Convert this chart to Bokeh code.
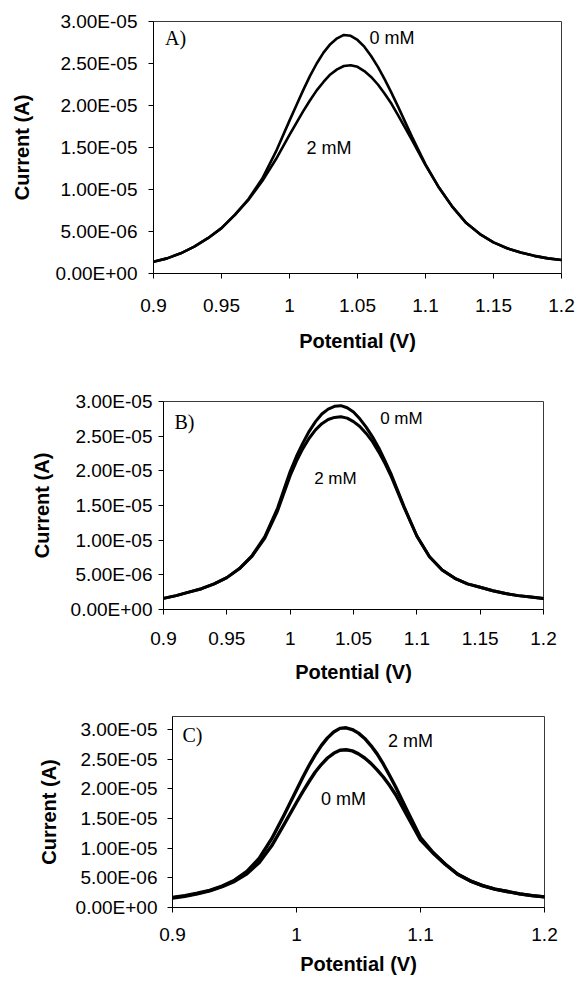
from bokeh.plotting import figure
from bokeh.layouts import column
from bokeh.models import Range1d, FixedTicker, ColumnDataSource
from bokeh.core.properties import value
from bokeh.embed import file_html
from bokeh.resources import INLINE

# ---------------- data (current in microamps) ----------------
potential = [0.90, 0.91, 0.92, 0.93, 0.94, 0.95, 0.96, 0.97, 0.98, 0.99,
             1.000, 1.005, 1.010, 1.015, 1.020, 1.025, 1.030, 1.035, 1.040,
             1.045, 1.050, 1.055, 1.060, 1.065, 1.070, 1.075, 1.080,
             1.09, 1.10, 1.11, 1.12, 1.13, 1.14, 1.15, 1.16, 1.17, 1.18, 1.19, 1.20]

a_0mM = [1.4, 1.8, 2.4, 3.2, 4.2, 5.4, 7.0, 8.9, 11.3, 14.5,
         18.2, 20.0, 21.8, 23.5, 25.0, 26.3, 27.3, 28.0, 28.4,
         28.3, 27.8, 27.0, 25.9, 24.6, 23.1, 21.5, 19.8,
         16.3, 13.0, 10.2, 7.9, 6.0, 4.7, 3.7, 3.0, 2.5, 2.1, 1.8, 1.6]
a_2mM = [1.4, 1.8, 2.4, 3.2, 4.2, 5.4, 7.0, 8.8, 11.0, 13.6,
         16.5, 17.9, 19.3, 20.6, 21.8, 22.8, 23.7, 24.3, 24.7,
         24.8, 24.6, 24.1, 23.4, 22.5, 21.4, 20.2, 18.8,
         15.9, 12.9, 10.2, 7.9, 6.0, 4.7, 3.7, 3.0, 2.5, 2.1, 1.8, 1.6]

b_0mM = [1.6, 2.0, 2.5, 3.0, 3.7, 4.6, 5.9, 7.8, 10.5, 14.6,
         19.9, 22.1, 24.0, 25.7, 27.1, 28.2, 28.9, 29.3, 29.4,
         29.1, 28.5, 27.5, 26.3, 24.9, 23.3, 21.4, 19.4,
         14.8, 10.6, 7.6, 5.7, 4.5, 3.7, 3.2, 2.7, 2.3, 2.0, 1.8, 1.6]
b_2mM = [1.6, 2.0, 2.5, 3.0, 3.7, 4.6, 5.9, 7.7, 10.3, 14.2,
         19.3, 21.4, 23.2, 24.7, 25.9, 26.8, 27.4, 27.7, 27.8,
         27.6, 27.1, 26.4, 25.4, 24.2, 22.7, 21.0, 19.1,
         14.7, 10.6, 7.6, 5.7, 4.5, 3.7, 3.2, 2.7, 2.3, 2.0, 1.8, 1.6]

c_0mM = [1.6, 1.9, 2.3, 2.8, 3.5, 4.4, 5.7, 7.6, 10.4, 14.0,
         17.7, 19.5, 21.2, 22.8, 24.1, 25.2, 26.0, 26.5, 26.6,
         26.4, 25.9, 25.2, 24.3, 23.2, 22.0, 20.6, 19.0,
         15.2, 11.4, 9.2, 7.3, 5.6, 4.5, 3.7, 3.1, 2.7, 2.3, 2.0, 1.8]
c_2mM = [1.7, 2.0, 2.4, 2.9, 3.6, 4.6, 6.1, 8.3, 11.6, 15.6,
         19.8, 21.9, 23.9, 25.7, 27.3, 28.6, 29.6, 30.2, 30.3,
         30.0, 29.4, 28.5, 27.3, 25.9, 24.2, 22.3, 20.3,
         16.0, 11.8, 9.3, 7.3, 5.6, 4.5, 3.7, 3.1, 2.7, 2.3, 2.0, 1.8]

x_ticks_ab = [0.9, 0.95, 1.0, 1.05, 1.1, 1.15, 1.2]
x_labels_ab = ["0.9", "0.95", "1", "1.05", "1.1", "1.15", "1.2"]
x_ticks_c = [0.9, 1.0, 1.1, 1.2]
x_labels_c = ["0.9", "1", "1.1", "1.2"]
y_ticks = [0.0, 5e-6, 1e-5, 1.5e-5, 2e-5, 2.5e-5, 3e-5]
y_labels = ["0.00E+00", "5.00E-06", "1.00E-05", "1.50E-05", "2.00E-05", "2.50E-05", "3.00E-05"]

panel_letters = ["A)", "B)", "C)"]
letter_x = [0.9162, 0.9166, 0.9161]
letter_y_uA = [27.98, 27.1, 29.0]

a_notes = ["0 mM", "2 mM"]
a_notes_x = [1.0754, 1.029]
a_notes_y_uA = [28.06, 14.94]
b_notes = ["0 mM", "2 mM"]
b_notes_x = [1.0878, 1.0357]
b_notes_y_uA = [27.6, 18.9]
c_notes = ["2 mM", "0 mM"]
c_notes_x = [1.0919, 1.0379]
c_notes_y_uA = [28.15, 18.37]

x_title = "Potential (V)"
y_title = "Current (A)"

UA = 1e-6
SANS = "Liberation Sans"
SERIF = "Liberation Serif"


def panel(height, borders, ymax, xticks, xlabels, tick_px, y_lab_so, y_title_so,
          x_lab_so, x_title_so, series, lw, letter_idx, notes, notes_x, notes_y, note_px):
    left, right, top, bottom = borders
    p = figure(width=578, height=height, output_backend="svg", toolbar_location=None,
               x_range=Range1d(0.9, 1.2), y_range=Range1d(0, ymax),
               min_border_left=left, min_border_right=right,
               min_border_top=top, min_border_bottom=bottom)
    p.frame_align = False
    p.background_fill_color = "white"
    p.border_fill_color = "white"
    p.outline_line_color = "#3a3a3a"
    p.outline_line_width = 1
    p.xgrid.visible = False
    p.ygrid.visible = False

    for ax in (p.xaxis[0], p.yaxis[0]):
        ax.axis_line_color = "black"
        ax.major_tick_line_color = "black"
        ax.major_tick_out = 5
        ax.major_tick_in = 0
        ax.minor_tick_line_color = None
        ax.major_label_text_font = SANS
        ax.major_label_text_font_size = f"{tick_px}px"
        ax.major_label_text_color = "black"
        ax.axis_label_text_font = SANS
        ax.axis_label_text_font_style = "bold"
        ax.axis_label_text_font_size = "20px"
        ax.axis_label_text_color = "black"

    p.xaxis.ticker = FixedTicker(ticks=xticks)
    p.xaxis.major_label_overrides = dict(zip(xticks, xlabels))
    p.yaxis.ticker = FixedTicker(ticks=y_ticks)
    p.yaxis.major_label_overrides = dict(zip(y_ticks, y_labels))
    p.xaxis.axis_label = x_title
    p.yaxis.axis_label = y_title
    p.yaxis.major_label_standoff = y_lab_so
    p.yaxis.axis_label_standoff = y_title_so
    p.xaxis.major_label_standoff = x_lab_so
    p.xaxis.axis_label_standoff = x_title_so

    for ys in series:
        p.line(potential, [v * UA for v in ys], line_color="black", line_width=lw,
               line_join="round", line_cap="round")

    p.text(x=[letter_x[letter_idx]], y=[letter_y_uA[letter_idx] * UA],
           text=[panel_letters[letter_idx]], text_font=value(SERIF),
           text_font_size="20px", text_align="center", text_baseline="middle",
           text_color="black")
    src = ColumnDataSource(dict(x=notes_x, y=[v * UA for v in notes_y], t=notes))
    p.text(x="x", y="y", text="t", source=src, text_font=value(SANS),
           text_font_size=f"{note_px}px", text_align="center", text_baseline="middle",
           text_color="black")
    return p


pa = panel(362, (153, 17, 21, 89), 3e-5, x_ticks_ab, x_labels_ab, 19, 11, 20, 20, 15,
           [a_0mM, a_2mM], 2.6, 0, a_notes, a_notes_x, a_notes_y_uA, 18)
pb = panel(328, (163, 35, 39, 81), 3e-5, x_ticks_ab, x_labels_ab, 19, 6, 15, 17, 13,
           [b_0mM, b_2mM], 3.0, 1, b_notes, b_notes_x, b_notes_y_uA, 17)
pc = panel(291, (172, 34, 26, 74), 3.22e-5, x_ticks_c, x_labels_c, 19, 10, 13, 15, 9,
           [c_0mM, c_2mM], 3.4, 2, c_notes, c_notes_x, c_notes_y_uA, 18)

layout = column(pa, pb, pc, spacing=0)
open("out.html", "w").write(file_html(layout, INLINE))
